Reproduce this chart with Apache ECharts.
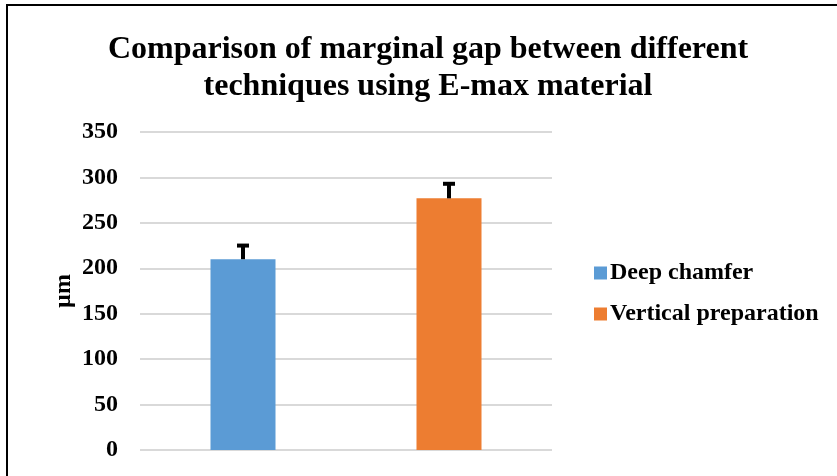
<!DOCTYPE html>
<html>
<head>
<meta charset="utf-8">
<script src="https://cdn.jsdelivr.net/npm/echarts@6/dist/echarts.min.js"></script>
<style>
  html, body { margin: 0; padding: 0; background: #fff; overflow: hidden; }
  #chart { width: 837px; height: 476px; }
</style>
</head>
<body>
<div id="chart"></div>
<script>
var categories = ['Deep chamfer', 'Vertical preparation'];
var means = [210, 277];
var errors = [15, 16];
var colors = ['#5b9bd5', '#ed7d31'];
var yTicks = [0, 50, 100, 150, 200, 250, 300, 350];

window.onload = function () {
    var serif = '"Liberation Serif", "DejaVu Serif", serif';
    var chart = echarts.init(document.getElementById('chart'));

    var barSeries = categories.map(function (name, i) {
        var data = categories.map(function (c, j) { return j === i ? means[i] : '-'; });
        return {
            type: 'bar',
            name: name,
            stack: 'all',
            barWidth: 65,
            itemStyle: { color: colors[i] },
            data: data
        };
    });

    var errData = means.map(function (m, i) { return [i, m, m + errors[i]]; });

    var option = {
        animation: false,
        // chart frame: only top and left edges show in the crop
        graphic: [{
            type: 'polyline',
            shape: { points: [[7, 476], [7, 5], [837, 5]] },
            style: { stroke: '#000', lineWidth: 2, fill: null }
        }],
        title: {
            text: 'Comparison of marginal gap between different\ntechniques using E-max material',
            left: 423,
            textAlign: 'center',
            top: 26,
            textStyle: { fontFamily: serif, fontSize: 32, fontWeight: 'bold', color: '#000', lineHeight: 37 }
        },
        legend: {
            orient: 'vertical',
            left: 589,
            top: 256,
            itemWidth: 13,
            itemHeight: 13,
            itemGap: 17,
            icon: 'rect',
            data: categories,
            textStyle: { fontFamily: serif, fontSize: 24, fontWeight: 'bold', color: '#000', padding: [0, 0, 0, -2] }
        },
        grid: { left: 140, right: 285, top: 132, bottom: 26, containLabel: false },
        xAxis: {
            type: 'category',
            data: categories,
            axisLine: { show: false },
            axisTick: { show: false },
            axisLabel: { show: false }
        },
        yAxis: {
            type: 'value',
            min: yTicks[0],
            max: yTicks[yTicks.length - 1],
            interval: 50,
            name: 'µm',
            nameLocation: 'middle',
            nameGap: 64,
            nameRotate: 90,
            nameTextStyle: { fontFamily: serif, fontSize: 24, fontWeight: 'bold', color: '#000' },
            axisLine: { show: false },
            axisTick: { show: false },
            axisLabel: { fontFamily: serif, fontSize: 24, fontWeight: 'bold', color: '#000', margin: 22 },
            splitLine: { lineStyle: { color: '#d9d9d9', width: 2 } }
        },
        series: barSeries.concat([{
            type: 'custom',
            name: 'error',
            data: errData,
            z: 5,
            renderItem: function (params, api) {
                var x = api.value(0);
                var base = api.coord([x, api.value(1)]);
                var top = api.coord([x, api.value(2)]);
                var half = 6;
                return {
                    type: 'group',
                    children: [{
                        type: 'line',
                        shape: { x1: base[0], y1: base[1], x2: top[0], y2: top[1] },
                        style: { stroke: '#000', lineWidth: 4 }
                    }, {
                        type: 'line',
                        shape: { x1: top[0] - half, y1: top[1], x2: top[0] + half, y2: top[1] },
                        style: { stroke: '#000', lineWidth: 4 }
                    }]
                };
            }
        }])
    };
    chart.setOption(option);
};
</script>
</body>
</html>
